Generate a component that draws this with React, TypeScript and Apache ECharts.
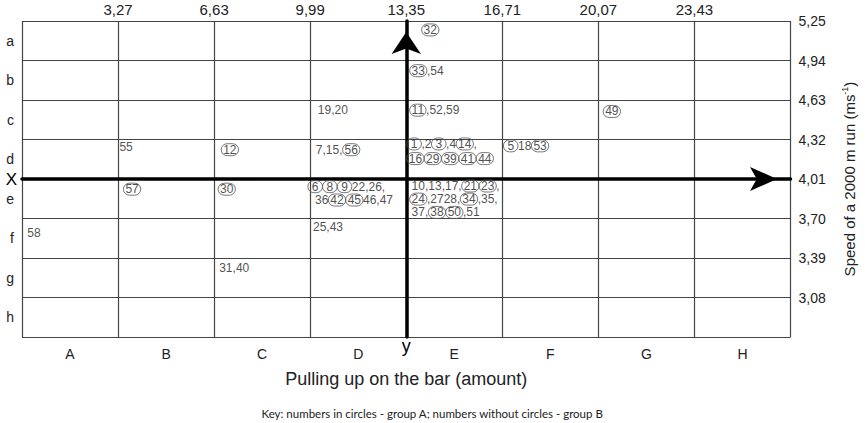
import React, { useEffect, useRef } from "react";
import * as echarts from "echarts";

// Column (pull-up) classes and row (speed) classes
const columnLetters = ["A", "B", "C", "D", "E", "F", "G", "H"];
const rowLetters = ["a", "b", "c", "d", "e", "f", "g", "h"];
// Boundary tick labels
const pullTicks = ["3,27", "6,63", "9,99", "13,35", "16,71", "20,07", "23,43"];
const speedTicks = ["5,25", "4,94", "4,63", "4,32", "4,01", "3,70", "3,39", "3,08"];

// Student numbers written in the grid: [n] = circled (group A), plain = group B
const studentTexts = [
  "[32]",
  "[33],54",
  "[11],52,59",
  "19,20",
  "[49]",
  "55",
  "[12]",
  "7,15,[56]",
  "[1],2[3],4[14],",
  "[16][29][39][41][44]",
  "[5]18[53]",
  "[57]",
  "[30]",
  "[6][8][9]22,26,",
  "36[42][45]46,47",
  "10,13,17,[21][23],",
  "[24],2728,[34],35,",
  "37,[38][50],51",
  "58",
  "25,43",
  "31,40",
];
// Pull-up amount at which each text starts
const pullValues = [
  13.87, 13.45, 13.45, 10.24, 20.22, 3.3, 6.86, 10.17, 13.35, 13.35, 16.73,
  3.44, 6.75, 9.89, 10.14, 13.52, 13.45, 13.52, 0.08, 10.07, 6.79,
];
// 2000 m run speed (m/s) of each text line
const speedValues = [
  5.18, 4.86, 4.55, 4.55, 4.54, 4.26, 4.24, 4.24, 4.285, 4.17, 4.27,
  3.93, 3.93, 3.95, 3.845, 3.955, 3.852, 3.748, 3.59, 3.63, 3.31,
];

const PULL_MIN = -0.09;
const PULL_STEP = 3.36;
const SPEED_MIN = 2.77;
const SPEED_STEP = 0.31;

const FONT = "'Liberation Sans', Arial, sans-serif";
const TEXT = "#222";
const GRIDC = "#444";

function toRich(s: string): string {
  return s
    .split(/(\[\d+\])/)
    .filter((t) => t.length > 0)
    .map((t) => {
      if (t.startsWith("[")) {
        const n = t.slice(1, -1);
        return `{${n.length === 1 ? "c1" : "c2"}|${n}}`;
      }
      return `{t|${t}}`;
    })
    .join("");
}

export default function App() {
  const ref = useRef<HTMLDivElement>(null);
  useEffect(() => {
    document.body.style.margin = "0";
    const chart = echarts.init(ref.current!, null, { renderer: "svg" });
    const numStyle = { fontSize: 12, lineHeight: 11, fontFamily: FONT, color: TEXT };
    const circ = {
      ...numStyle,
      borderColor: "#555",
      borderWidth: 1,
      borderRadius: 7,
    };
    const data = studentTexts.map((s, i) => ({
      value: [
        (pullValues[i] - PULL_MIN) / PULL_STEP,
        (speedValues[i] - SPEED_MIN) / SPEED_STEP,
      ],
      label: { formatter: toRich(s) },
    }));
    chart.setOption({
      animation: false,
      grid: { left: 22, right: 73, top: 21, bottom: 86, containLabel: false },
      xAxis: [
        {
          type: "value",
          min: 0,
          max: 8,
          interval: 1,
          position: "top",
          axisLine: { show: false },
          axisTick: { show: false },
          axisLabel: {
            fontSize: 15,
            fontFamily: FONT,
            color: TEXT,
            margin: 4,
            formatter: (v: number) => pullTicks[v - 1] ?? "",
          },
          splitLine: { show: true, lineStyle: { color: GRIDC, width: 1.2 } },
        },
        {
          type: "category",
          data: columnLetters,
          position: "bottom",
          axisLine: { show: false },
          axisTick: { show: false },
          splitLine: { show: false },
          axisLabel: { fontSize: 14, fontFamily: FONT, color: TEXT, margin: 10 },
          name: "Pulling up on the bar (amount)",
          nameLocation: "middle",
          nameGap: 33,
          nameTextStyle: { fontSize: 18, fontFamily: FONT, color: TEXT },
        },
        {
          type: "value",
          min: -4,
          max: 4,
          axisLine: {
            show: true,
            onZero: true,
            onZeroAxisIndex: 2,
            symbol: ["none", "arrow"],
            symbolSize: [18, 27],
            symbolOffset: [0, -13.5],
            lineStyle: { color: "#000", width: 3.5 },
          },
          axisTick: { show: false },
          axisLabel: { show: false },
          splitLine: { show: false },
          name: "X",
          nameLocation: "start",
          nameGap: 5,
          nameTextStyle: { fontSize: 17, fontFamily: FONT, color: "#000" },
        },
      ],
      yAxis: [
        {
          type: "value",
          min: 0,
          max: 8,
          interval: 1,
          position: "right",
          axisLine: { show: false },
          axisTick: { show: false },
          axisLabel: {
            fontSize: 14,
            fontFamily: FONT,
            color: TEXT,
            margin: 8,
            formatter: (v: number) => speedTicks[8 - v] ?? "",
          },
          splitLine: { show: true, lineStyle: { color: GRIDC, width: 1.2 } },
          name: "Speed of a 2000 m run (ms{sup|-1})",
          nameLocation: "middle",
          nameGap: 50,
          nameTextStyle: {
            fontSize: 15,
            fontFamily: FONT,
            color: TEXT,
            rich: {
              sup: { fontSize: 9, fontFamily: FONT, color: TEXT, padding: [0, 0, 9, 0] },
            },
          },
        },
        {
          type: "category",
          data: rowLetters,
          inverse: true,
          position: "left",
          axisLine: { show: false },
          axisTick: { show: false },
          splitLine: { show: false },
          axisLabel: { fontSize: 14, fontFamily: FONT, color: TEXT, margin: 8 },
        },
        {
          type: "value",
          min: -4,
          max: 4,
          axisLine: {
            show: true,
            onZero: true,
            onZeroAxisIndex: 2,
            symbol: ["none", "arrow"],
            symbolSize: [22, 22],
            symbolOffset: [0, -11],
            lineStyle: { color: "#000", width: 3.5 },
          },
          axisTick: { show: false },
          axisLabel: { show: false },
          splitLine: { show: false },
          name: "y",
          nameLocation: "start",
          nameGap: 0,
          nameTextStyle: { fontSize: 18, fontFamily: FONT, color: "#000" },
        },
      ],
      graphic: [
        {
          type: "text",
          left: "center",
          top: 407,
          style: {
            text: "Key: numbers in circles - group A; numbers without circles - group B",
            fontSize: 11.5,
            fontFamily: "Lato, 'Open Sans', sans-serif",
            fill: TEXT,
          },
        },
      ],
      series: [
        {
          type: "scatter",
          xAxisIndex: 0,
          yAxisIndex: 0,
          symbolSize: 1,
          itemStyle: { color: "rgba(0,0,0,0)" },
          silent: true,
          z: 5,
          label: {
            show: true,
            position: "right",
            distance: 0,
            rich: {
              t: numStyle,
              c2: { ...circ, padding: [0, 2, 0, 2] },
              c1: { ...circ, padding: [0, 4, 0, 4] },
            },
          },
          data,
        },
      ],
    });
    return () => chart.dispose();
  }, []);
  return <div ref={ref} style={{ width: 865, height: 423 }} />;
}
